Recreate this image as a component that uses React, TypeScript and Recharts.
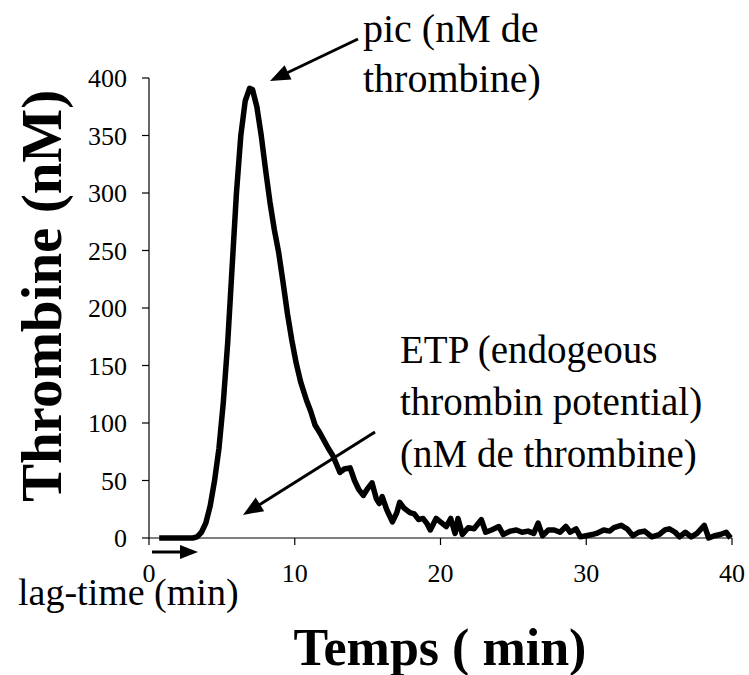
import React from 'react';
import { LineChart, Line, XAxis, YAxis } from 'recharts';

const timeMin = [
  0.7, 1.5, 2.5, 3.0, 3.3, 3.6, 3.9, 4.2, 4.5, 4.8, 5.1, 5.4, 5.7, 6.0, 6.3, 6.6, 6.9, 7.1, 7.4, 7.7,
  8.0, 8.3, 8.6, 8.9, 9.2, 9.5, 9.8, 10.1, 10.4, 10.8, 11.1, 11.4, 11.7, 12.0, 12.3, 12.6, 12.9, 13.1, 13.4, 13.8,
  14.1, 14.4, 14.7, 15.0, 15.3, 15.6, 15.8, 16.0, 16.3, 16.7, 17.0, 17.2, 17.5, 17.9, 18.2, 18.5, 18.8, 19.1, 19.3, 19.7,
  20.1, 20.4, 20.7, 21.0, 21.2, 21.5, 21.9, 22.3, 22.8, 23.1, 23.5, 24.0, 24.3, 24.8, 25.2, 25.6, 26.0, 26.4, 26.7, 27.0,
  27.4, 27.8, 28.2, 28.6, 28.9, 29.3, 29.6, 30.0, 30.4, 30.7, 31.2, 31.6, 31.9, 32.4, 32.8, 33.2, 33.6, 34.0, 34.5, 35.0,
  35.4, 35.7, 36.1, 36.4, 36.8, 37.2, 37.6, 38.1, 38.4, 38.8, 39.2, 39.6, 39.9,
];

const thrombinNM = [
  0, 0, 0, 0, 1, 5, 13, 28, 50, 78, 118, 170, 235, 300, 350, 380, 391, 390, 375, 350,
  320, 292, 268, 248, 222, 195, 172, 152, 136, 120, 110, 98, 92, 85, 78, 72, 63, 57, 60, 61,
  50, 42, 37, 43, 48, 34, 30, 36, 25, 14, 22, 31, 26, 22, 21, 16, 17, 12, 7, 17,
  13, 10, 17, 4, 17, 3, 9, 8, 16, 5, 7, 10, 3, 6, 7, 5, 6, 4, 13, 2,
  7, 7, 5, 10, 5, 8, 1, 2, 3, 4, 7, 6, 9, 11, 8, 2, 5, 6, 1, 3,
  7, 8, 5, 1, 5, 1, 4, 11, 0, 2, 3, 5, 0,
];

const xTicks = [0, 10, 20, 30, 40];
const yTicks = [0, 50, 100, 150, 200, 250, 300, 350, 400];

const xTitle = 'Temps ( min)';
const yTitle = 'Thrombine (nM)';
const picLines = ['pic (nM de', 'thrombine)'];
const etpLines = ['ETP (endogeous', 'thrombin potential)', '(nM de thrombine)'];
const lagText = 'lag-time (min)';

const rows = timeMin.map((t, i) => ({ t, v: thrombinNM[i] }));

const FONT = "'Liberation Serif', 'Times New Roman', Times, serif";

function XTick(props: any) {
  const { x, y, payload } = props;
  return (
    <text x={x} y={y + 15} textAnchor="middle" fontFamily={FONT} fontSize={26} fill="#000">
      {payload.value}
    </text>
  );
}

function YTick(props: any) {
  const { x, y, payload } = props;
  return (
    <text x={x} y={y + 9} textAnchor="end" fontFamily={FONT} fontSize={26} fill="#000">
      {payload.value}
    </text>
  );
}

function Arrow({ x1, y1, x2, y2, w = 3, len = 20, half = 8 }: any) {
  const dx = x2 - x1;
  const dy = y2 - y1;
  const d = Math.sqrt(dx * dx + dy * dy);
  const ux = dx / d;
  const uy = dy / d;
  const bx = x2 - ux * len;
  const by = y2 - uy * len;
  const nx = -uy;
  const ny = ux;
  const pts = `${x2},${y2} ${bx + nx * half},${by + ny * half} ${bx - nx * half},${by - ny * half}`;
  return (
    <g>
      <line x1={x1} y1={y1} x2={bx + ux * 2} y2={by + uy * 2} stroke="#000" strokeWidth={w} />
      <polygon points={pts} fill="#000" />
    </g>
  );
}

function T(props: any) {
  return <text fontFamily={FONT} fill="#000" {...props} />;
}

export default function App() {
  return (
    <div
      style={{
        position: 'absolute',
        left: 0,
        top: 0,
        width: 749,
        height: 675,
        background: '#fff',
      }}
    >
      <LineChart
        width={749}
        height={675}
        data={rows}
        margin={{ top: 78, right: 17, bottom: 107, left: 0 }}
      >
        <XAxis
          type="number"
          dataKey="t"
          domain={[0, 40]}
          ticks={xTicks}
          interval={0}
          height={30}
          tickSize={7}
          tickMargin={22}
          axisLine={{ stroke: '#000', strokeWidth: 1.2 }}
          tickLine={{ stroke: '#000', strokeWidth: 1.2 }}
          tick={<XTick />}
        />
        <YAxis
          type="number"
          domain={[0, 400]}
          ticks={yTicks}
          interval={0}
          width={149}
          tickSize={7}
          tickMargin={15}
          axisLine={{ stroke: '#000', strokeWidth: 1.2 }}
          tickLine={{ stroke: '#000', strokeWidth: 1.2 }}
          tick={<YTick />}
        />
        <Line
          dataKey="v"
          type="linear"
          stroke="#000"
          strokeWidth={5.5}
          strokeLinejoin="round"
          dot={false}
          isAnimationActive={false}
        />
      </LineChart>
      <svg
        width={749}
        height={675}
        style={{ position: 'absolute', left: 0, top: 0, pointerEvents: 'none' }}
      >
        <T x={363} y={42} fontSize={40}>{picLines[0]}</T>
        <T x={363} y={92} fontSize={40}>{picLines[1]}</T>
        <T x={400} y={363} fontSize={39}>{etpLines[0]}</T>
        <T x={400} y={415} fontSize={39}>{etpLines[1]}</T>
        <T x={400} y={467} fontSize={39}>{etpLines[2]}</T>
        <T x={18} y={605} fontSize={38}>{lagText}</T>
        <T x={440} y={665} fontSize={52} fontWeight="bold" textAnchor="middle">{xTitle}</T>
        <T
          x={61}
          y={296}
          fontSize={57}
          fontWeight="bold"
          textAnchor="middle"
          transform="rotate(-90 61 296)"
        >
          {yTitle}
        </T>
        <Arrow x1={358} y1={39} x2={270} y2={81} />
        <Arrow x1={375} y1={432} x2={243} y2={515} />
        <Arrow x1={152} y1={552} x2={198} y2={552} len={18} half={7} />
      </svg>
    </div>
  );
}
